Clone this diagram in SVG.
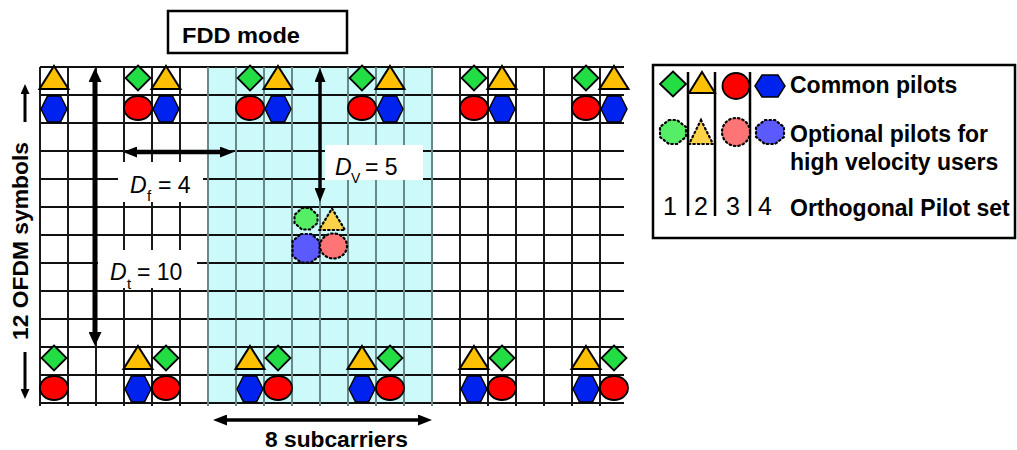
<svg xmlns="http://www.w3.org/2000/svg" width="1017" height="450" viewBox="0 0 1017 450">
<style>
.t{font-family:"Liberation Sans",Arial,sans-serif;fill:#000}
.b{font-weight:bold}
.hl{stroke:#111;stroke-width:2;fill:none}
.vl{stroke:#1a1a1a;stroke-width:2;fill:none}
.vc{stroke:#6a8888;stroke-width:2;fill:none}
.pd{fill:#22dd44;stroke:#000;stroke-width:1.8}
.pt{fill:#ffc000;stroke:#000;stroke-width:2}
.pc{fill:#ff0000;stroke:#000;stroke-width:1.8}
.ph{fill:#0022ee;stroke:#000;stroke-width:1.5}
.od{fill:#55ee66;stroke:#000;stroke-width:2.2;stroke-dasharray:1.5 3;stroke-linecap:round}
.ot{fill:#ffd24a;stroke:#000;stroke-width:2.2;stroke-dasharray:1.5 3;stroke-linecap:round}
.oc{fill:#ff7474;stroke:#000;stroke-width:2.2;stroke-dasharray:1.5 3;stroke-linecap:round}
.oh{fill:#5a5aff;stroke:#000;stroke-width:2.2;stroke-dasharray:1.5 3;stroke-linecap:round}
.ar{stroke:#000;fill:none}
.wb{fill:#fff}
</style>
<defs>
<polygon id="dia" class="pd" points="0,-12.5 12.5,0 0,12.5 -12.5,0"/>
<polygon id="tri" class="pt" points="0,-12 14.5,11 -14.5,11"/>
<ellipse id="cir" class="pc" cx="0" cy="0" rx="14" ry="12"/>
<polygon id="hex" class="ph" points="-13,0 -6.5,-13 6.5,-13 13,0 6.5,13 -6.5,13"/>
<marker id="ahB" viewBox="0 0 14 13" markerWidth="14" markerHeight="13" refX="2" refY="6.5" orient="auto-start-reverse" markerUnits="userSpaceOnUse"><path d="M0,0 L14,6.5 L0,13 z" fill="#000"/></marker>
<marker id="ahM" viewBox="0 0 14 11" markerWidth="14" markerHeight="11" refX="2" refY="5.5" orient="auto-start-reverse" markerUnits="userSpaceOnUse"><path d="M0,0 L14,5.5 L0,11 z" fill="#000"/></marker>
<marker id="ahS" viewBox="0 0 10 9" markerWidth="10" markerHeight="9" refX="2" refY="4.5" orient="auto-start-reverse" markerUnits="userSpaceOnUse"><path d="M0,0 L10,4.5 L0,9 z" fill="#000"/></marker>
</defs>

<g id="grid">
<rect x="208" y="67" width="224" height="336" fill="#ccfafa"/>
<path class="hl" d="M40,67H624M40,95H624M40,123H624M40,151H624M40,179H624M40,207H624M40,235H624M40,263H624M40,291H624M40,319H624M40,347H624M40,375H624M40,403H624"/>
<path class="vl" d="M40,67V406M68,67V406M96,67V406M124,67V406M152,67V406M180,67V406M460,67V406M488,67V406M516,67V406M544,67V406M572,67V406M600,67V406"/>
<path class="vc" d="M208,67V406M236,67V406M264,67V406M292,67V406M320,67V406M348,67V406M376,67V406M404,67V406M432,67V406"/>
</g>

<g id="label-boxes">
<rect class="wb" x="118" y="162" width="85" height="40"/>
<rect class="wb" x="98" y="250" width="99" height="38"/>
<rect class="wb" x="325" y="145" width="98" height="35"/>
</g>

<g id="pilots-top">
<use href="#tri" x="54" y="78"/><use href="#hex" x="54" y="109"/>
<use href="#dia" x="138" y="78"/><use href="#cir" x="138" y="108"/>
<use href="#tri" x="166" y="78"/><use href="#hex" x="166" y="109"/>
<use href="#dia" x="250" y="78"/><use href="#cir" x="250" y="108"/>
<use href="#tri" x="278" y="78"/><use href="#hex" x="278" y="109"/>
<use href="#dia" x="362" y="78"/><use href="#cir" x="362" y="108"/>
<use href="#tri" x="390" y="78"/><use href="#hex" x="390" y="109"/>
<use href="#dia" x="474" y="78"/><use href="#cir" x="474" y="108"/>
<use href="#tri" x="502" y="78"/><use href="#hex" x="502" y="109"/>
<use href="#dia" x="586" y="78"/><use href="#cir" x="586" y="108"/>
<use href="#tri" x="614" y="78"/><use href="#hex" x="614" y="109"/>
</g>

<g id="pilots-bottom">
<use href="#dia" x="54" y="358"/><use href="#cir" x="54" y="388"/>
<use href="#tri" x="138" y="358"/><use href="#hex" x="138" y="389"/>
<use href="#dia" x="166" y="358"/><use href="#cir" x="166" y="388"/>
<use href="#tri" x="250" y="358"/><use href="#hex" x="250" y="389"/>
<use href="#dia" x="278" y="358"/><use href="#cir" x="278" y="388"/>
<use href="#tri" x="362" y="358"/><use href="#hex" x="362" y="389"/>
<use href="#dia" x="390" y="358"/><use href="#cir" x="390" y="388"/>
<use href="#tri" x="474" y="358"/><use href="#hex" x="474" y="389"/>
<use href="#dia" x="502" y="358"/><use href="#cir" x="502" y="388"/>
<use href="#tri" x="586" y="358"/><use href="#hex" x="586" y="389"/>
<use href="#dia" x="614" y="358"/><use href="#cir" x="614" y="388"/>
</g>

<g id="pilots-optional">
<polygon class="od" points="302,208 310,208 317.5,215 317.5,223 310,229.5 302,229.5 294.5,223 294.5,215"/>
<polygon class="ot" points="332,208.5 345,230 319,230"/>
<polygon class="oh" points="301,234 311,234 319.5,241 319.5,256 311,262.5 301,262.5 292.5,256 292.5,241"/>
<ellipse class="oc" cx="333.5" cy="246" rx="13.5" ry="12.5"/>
</g>

<g id="connectors">
<line class="ar" x1="95" y1="80" x2="95" y2="334" stroke-width="5" marker-start="url(#ahB)" marker-end="url(#ahB)"/>
<line class="ar" x1="135" y1="152" x2="222" y2="152" stroke-width="4.5" marker-start="url(#ahM)" marker-end="url(#ahM)"/>
<line class="ar" x1="320" y1="80" x2="320" y2="190" stroke-width="3.5" marker-start="url(#ahM)" marker-end="url(#ahM)"/>
<line class="ar" x1="225" y1="420" x2="420" y2="420" stroke-width="3.5" marker-start="url(#ahM)" marker-end="url(#ahM)"/>
<line class="ar" x1="25" y1="122" x2="25" y2="92" stroke-width="3" marker-end="url(#ahS)"/>
<line class="ar" x1="25" y1="352" x2="25" y2="391" stroke-width="3" marker-end="url(#ahS)"/>
</g>

<g id="labels">
<text class="t" font-size="23" y="193"><tspan x="130" font-style="italic">D</tspan><tspan x="147" y="201" font-size="15">f</tspan><tspan x="158" y="193">= 4</tspan></text>
<text class="t" font-size="23" y="280"><tspan x="110" font-style="italic">D</tspan><tspan x="127" y="289" font-size="15">t</tspan><tspan x="137" y="280">= 10</tspan></text>
<text class="t" font-size="23" y="175"><tspan x="335" font-style="italic">D</tspan><tspan x="351" y="183" font-size="14">V</tspan><tspan x="365" y="175">= 5</tspan></text>
<text class="t b" font-size="22" text-anchor="middle" transform="translate(28,241) rotate(-90)" textLength="198" lengthAdjust="spacingAndGlyphs">12 OFDM symbols</text>
<text class="t b" font-size="22" x="265" y="447" textLength="143" lengthAdjust="spacingAndGlyphs">8 subcarriers</text>
</g>

<g id="fdd-mode">
<rect x="168" y="11" width="179" height="42" fill="#fff" stroke="#000" stroke-width="2.5"/>
<text class="t b" font-size="22" x="182" y="43" textLength="118" lengthAdjust="spacingAndGlyphs">FDD mode</text>
</g>

<g id="legend">
<rect x="653" y="65" width="362" height="173" fill="#fff" stroke="#000" stroke-width="2.5"/>
<path d="M688,72V216M715,72V216M750,72V216" stroke="#000" stroke-width="2.5" fill="none"/>
<polygon class="pd" points="673,71.5 686,84 673,96.5 660,84"/>
<polygon class="pt" points="702,72 715,93 689,93"/>
<ellipse class="pc" cx="736" cy="86" rx="13.5" ry="13"/>
<polygon class="ph" points="755,86 762,75 778,75 785,86 778,97 762,97"/>
<polygon class="od" points="669,120 677,120 686,127 686,137 677,144 669,144 660,137 660,127" fill="#88f09a"/>
<polygon class="ot" points="701,120 713,144 689,144" fill="#ffdc66"/>
<ellipse class="oc" cx="736" cy="132" rx="14" ry="14"/>
<polygon class="oh" points="765,120 775,120 784,127 784,137 775,144 765,144 756,137 756,127"/>
<text class="t b" font-size="23" x="790" y="93">Common pilots</text>
<text class="t b" font-size="23" x="790" y="142">Optional pilots for</text>
<text class="t b" font-size="23" x="790" y="170">high velocity users</text>
<text class="t" font-size="25" y="215" text-anchor="middle"><tspan x="670">1</tspan><tspan x="701">2</tspan><tspan x="733">3</tspan><tspan x="765">4</tspan></text>
<text class="t b" font-size="23" x="790" y="216">Orthogonal Pilot set</text>
</g>
</svg>
